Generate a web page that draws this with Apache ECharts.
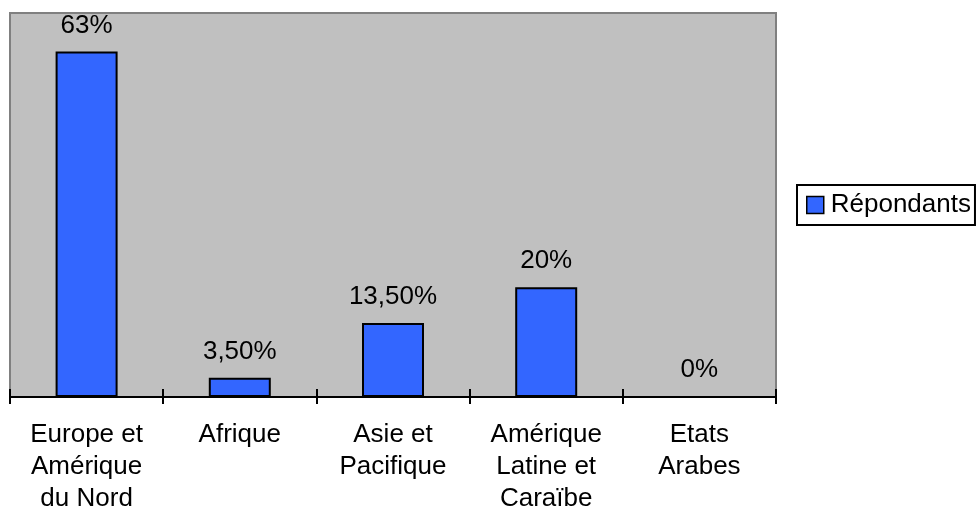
<!DOCTYPE html>
<html>
<head>
<meta charset="utf-8">
<script src="https://cdn.jsdelivr.net/npm/echarts@6/dist/echarts.min.js"></script>
<style>
html,body{margin:0;padding:0;background:#fff;}
#c{width:976px;height:508px;}
</style>
</head>
<body>
<div id="c"></div>
<script>
var categories = ['Europe et\nAmérique\ndu Nord', 'Afrique', 'Asie et\nPacifique', 'Amérique\nLatine et\nCaraïbe', 'Etats\nArabes'];
var values = [63, 3.5, 13.5, 20, 0];
var valueLabels = ['63%', '3,50%', '13,50%', '20%', '0%'];
var seriesName = 'Répondants';

var FONT = '"Liberation Sans", Arial, sans-serif';
var chart = echarts.init(document.getElementById('c'), null, {renderer: 'canvas'});
chart.setOption({
  animation: false,
  backgroundColor: '#ffffff',
  grid: {
    left: 10, top: 13, right: 200, bottom: 111,
    show: true, backgroundColor: '#C0C0C0', borderColor: '#808080', borderWidth: 2,
    containLabel: false,
    outerBoundsMode: 'none'
  },
  legend: {
    show: true,
    left: 797, top: 185,
    orient: 'vertical',
    data: [seriesName],
    icon: 'rect',
    itemWidth: 17, itemHeight: 17,
    padding: [7, 4, 7, 9],
    borderColor: '#000', borderWidth: 2, backgroundColor: '#fff',
    textStyle: {fontFamily: FONT, fontSize: 26, color: '#000', lineHeight: 26, padding: [0, 0, 0, 2]},
    itemStyle: {borderColor: '#000', borderWidth: 1.5}
  },
  xAxis: [{
    type: 'category',
    data: categories,
    position: 'bottom',
    axisLine: {show: true, lineStyle: {color: '#000', width: 2}},
    axisTick: {show: true, inside: true, length: 8, lineStyle: {color: '#000', width: 2}},
    axisLabel: {interval: 0, margin: 22, fontFamily: FONT, fontSize: 26, color: '#000', lineHeight: 32, align: 'center'},
    splitLine: {show: false}
  }, {
    type: 'category',
    data: categories,
    position: 'bottom',
    offset: 0,
    axisLine: {show: false},
    axisTick: {show: true, inside: false, length: 7, lineStyle: {color: '#000', width: 2}},
    axisLabel: {show: false},
    splitLine: {show: false}
  }],
  yAxis: {
    type: 'value', min: 0, max: 70,
    show: false,
    splitLine: {show: false}
  },
  series: [{
    name: seriesName,
    type: 'bar',
    data: values,
    barWidth: 62,
    itemStyle: {color: '#3366FF', borderColor: '#000', borderWidth: 2},
    label: {
      show: true, position: 'top', distance: 13,
      fontFamily: FONT, fontSize: 26, color: '#000',
      formatter: function (p) { return valueLabels[p.dataIndex]; }
    }
  }]
});
</script>
</body>
</html>
